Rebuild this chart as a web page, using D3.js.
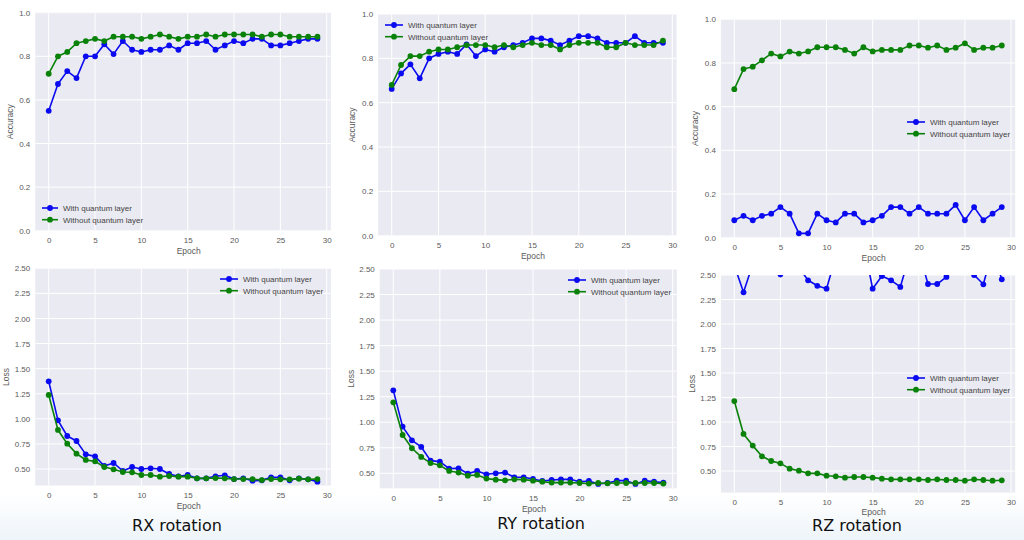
<!DOCTYPE html>
<html>
<head>
<meta charset="utf-8">
<script src="https://cdn.jsdelivr.net/npm/d3@7"></script>
<style>
  html, body { margin: 0; padding: 0; background: #ffffff; }
  svg { display: block; }
</style>
</head>
<body>
<svg id="chart" width="1024" height="540"></svg>
<script>
// ---------------- DATA ----------------
const epochs = [0,1,2,3,4,5,6,7,8,9,10,11,12,13,14,15,16,17,18,19,20,21,22,23,24,25,26,27,28,29];
const xTicks = [0,5,10,15,20,25,30];
const accTicks = [0.0,0.2,0.4,0.6,0.8,1.0];
const lossTicks = [0.50,0.75,1.00,1.25,1.50,1.75,2.00,2.25,2.50];
const seriesNames = ["With quantum layer", "Without quantum layer"];
const rotationTitles = ["RX rotation", "RY rotation", "RZ rotation"];

// RX
const rxAccWith    = [0.55,0.673,0.732,0.70,0.80,0.80,0.855,0.81,0.87,0.83,0.82,0.83,0.83,0.85,0.83,0.86,0.86,0.87,0.83,0.85,0.87,0.86,0.88,0.88,0.85,0.85,0.86,0.87,0.88,0.88];
const rxAccWithout = [0.72,0.80,0.82,0.86,0.87,0.88,0.87,0.89,0.89,0.89,0.88,0.89,0.90,0.89,0.88,0.89,0.89,0.90,0.89,0.90,0.90,0.90,0.90,0.89,0.90,0.90,0.89,0.89,0.89,0.89];
const rxLossWith    = [1.374,0.985,0.829,0.779,0.646,0.626,0.53,0.56,0.48,0.52,0.50,0.507,0.50,0.45,0.427,0.44,0.407,0.407,0.427,0.437,0.40,0.407,0.384,0.387,0.417,0.417,0.387,0.407,0.397,0.374];
const rxLossWithout = [1.238,0.889,0.752,0.653,0.59,0.576,0.52,0.497,0.47,0.467,0.44,0.44,0.424,0.43,0.424,0.424,0.407,0.407,0.41,0.407,0.40,0.40,0.40,0.39,0.40,0.397,0.397,0.404,0.397,0.40];
// RY
const ryAccWith    = [0.662,0.732,0.773,0.71,0.80,0.82,0.83,0.82,0.863,0.81,0.84,0.83,0.85,0.86,0.87,0.89,0.89,0.88,0.86,0.88,0.90,0.90,0.89,0.87,0.87,0.87,0.90,0.87,0.87,0.87];
const ryAccWithout = [0.68,0.77,0.81,0.81,0.83,0.84,0.84,0.85,0.86,0.86,0.86,0.85,0.86,0.85,0.86,0.87,0.86,0.86,0.84,0.86,0.87,0.87,0.87,0.85,0.85,0.87,0.86,0.86,0.86,0.88];
const ryLossWith    = [1.312,0.957,0.823,0.758,0.624,0.614,0.546,0.549,0.497,0.523,0.49,0.50,0.507,0.461,0.461,0.445,0.425,0.435,0.441,0.441,0.418,0.425,0.396,0.405,0.428,0.428,0.396,0.428,0.418,0.409];
const ryLossWithout = [1.195,0.875,0.745,0.66,0.60,0.578,0.523,0.507,0.477,0.484,0.448,0.438,0.431,0.441,0.438,0.428,0.418,0.409,0.409,0.409,0.405,0.399,0.405,0.402,0.405,0.405,0.405,0.405,0.405,0.399];
// RZ
const rzAccWith    = [0.08,0.10,0.08,0.10,0.11,0.14,0.11,0.02,0.02,0.11,0.08,0.07,0.11,0.11,0.07,0.08,0.10,0.14,0.14,0.11,0.14,0.11,0.11,0.11,0.15,0.08,0.14,0.08,0.11,0.14];
const rzAccWithout = [0.68,0.772,0.783,0.812,0.843,0.83,0.852,0.843,0.853,0.872,0.872,0.872,0.86,0.843,0.872,0.853,0.86,0.86,0.86,0.88,0.88,0.87,0.88,0.86,0.87,0.89,0.86,0.87,0.87,0.88];
const rzLossWith    = [2.60,2.323,2.61,2.62,2.58,2.505,2.62,2.575,2.446,2.39,2.36,2.686,2.70,2.75,2.83,2.36,2.49,2.446,2.378,2.70,2.74,2.408,2.408,2.48,2.90,2.65,2.50,2.405,2.75,2.456];
const rzLossWithout = [1.214,0.878,0.759,0.65,0.602,0.578,0.524,0.503,0.476,0.476,0.452,0.446,0.432,0.439,0.439,0.432,0.422,0.415,0.415,0.415,0.415,0.408,0.415,0.408,0.408,0.401,0.415,0.408,0.401,0.405];

// ---------------- LAYOUT ----------------
const colors = ["#0a0af0", "#0a820a"];
const bg = "#eaeaf2";
const tickColor = "#5a5a5a";
const textFont = "'Liberation Sans', Arial, sans-serif";

const panels = [
  { w: rxAccWith,  wo: rxAccWithout,  yLabel: "Accuracy", ticks: accTicks, fmt: ".1f",
    x0: 48.7, x30: 326.7, yv: [0, 1], yp: [230.7, 12.7], ylim: [0, 1],
    legend: { x: 42, y: 208, len: 16 }, yLabX: 10, xLabY: 254 },
  { w: ryAccWith,  wo: ryAccWithout,  yLabel: "Accuracy", ticks: accTicks, fmt: ".1f",
    x0: 391.7, x30: 672.3, yv: [0, 1], yp: [235.7, 14], ylim: [0, 1],
    legend: { x: 385, y: 25, len: 18 }, yLabX: 352, xLabY: 259 },
  { w: rzAccWith,  wo: rzAccWithout,  yLabel: "Accuracy", ticks: accTicks, fmt: ".1f",
    x0: 734.3, x30: 1011, yv: [0, 1], yp: [237.7, 19.3], ylim: [0, 1],
    legend: { x: 907, y: 122, len: 18 }, yLabX: 695, xLabY: 261 },
  { w: rxLossWith, wo: rxLossWithout, yLabel: "Loss", ticks: lossTicks, fmt: ".2f",
    x0: 48.7, x30: 326.7, yv: [0.5, 2.5], yp: [469, 268.3], ylim: [0.335, 2.5],
    legend: { x: 220, y: 279, len: 18 }, yLabX: 6, xLabY: 509 },
  { w: ryLossWith, wo: ryLossWithout, yLabel: "Loss", ticks: lossTicks, fmt: ".2f",
    x0: 393.3, x30: 672.7, yv: [0.5, 2.5], yp: [473.3, 269], ylim: [0.353, 2.5],
    legend: { x: 568, y: 280, len: 18 }, yLabX: 351, xLabY: 511.5 },
  { w: rzLossWith, wo: rzLossWithout, yLabel: "Loss", ticks: lossTicks, fmt: ".2f",
    x0: 734.3, x30: 1011, yv: [0.5, 2.5], yp: [471, 275], ylim: [0.28, 2.5],
    legend: { x: 907, y: 378, len: 18 }, yLabX: 692, xLabY: 515 }
];
const titlePos = [[177, 531], [541, 529], [857, 531]];

const svg = d3.select("#chart");

// soft bluish glow at the bottom of the frame
const defs = svg.append("defs");
const grad = defs.append("linearGradient").attr("id", "bottomGrad")
  .attr("x1", 0).attr("y1", 0).attr("x2", 0).attr("y2", 1);
grad.append("stop").attr("offset", "0%").attr("stop-color", "#ffffff");
grad.append("stop").attr("offset", "100%").attr("stop-color", "#eef4f9");
svg.append("rect").attr("x", 0).attr("y", 495).attr("width", 1024).attr("height", 45)
  .attr("fill", "url(#bottomGrad)");

panels.forEach((p, i) => {
  const x = d3.scaleLinear().domain([0, 30]).range([p.x0, p.x30]);
  const y = d3.scaleLinear().domain(p.yv).range(p.yp);
  const left = x(-1.45), right = x(30.45);
  const top = y(p.ylim[1]), bottom = y(p.ylim[0]);

  const g = svg.append("g");
  const clipId = "clip" + i;
  defs.append("clipPath").attr("id", clipId).append("rect")
    .attr("x", left).attr("y", top).attr("width", right - left).attr("height", bottom - top);

  g.append("rect").attr("x", left).attr("y", top)
    .attr("width", right - left).attr("height", bottom - top).attr("fill", bg);

  // grid
  const grid = g.append("g").attr("clip-path", `url(#${clipId})`);
  grid.selectAll("line.gx").data(xTicks).join("line")
    .attr("x1", d => x(d)).attr("x2", d => x(d)).attr("y1", top).attr("y2", bottom)
    .attr("stroke", "#ffffff").attr("stroke-width", 1);
  grid.selectAll("line.gy").data(p.ticks).join("line")
    .attr("y1", d => y(d)).attr("y2", d => y(d)).attr("x1", left).attr("x2", right)
    .attr("stroke", "#ffffff").attr("stroke-width", 1);

  // axes
  const xAxis = d3.axisBottom(x).tickValues(xTicks).tickSize(0).tickPadding(7).tickFormat(d3.format("d"));
  const xa = g.append("g").attr("transform", `translate(0,${bottom})`).call(xAxis);
  const yAxis = d3.axisLeft(y).tickValues(p.ticks).tickSize(0).tickPadding(5).tickFormat(d3.format(p.fmt));
  const ya = g.append("g").attr("transform", `translate(${left},0)`).call(yAxis);
  [xa, ya].forEach(a => {
    a.select(".domain").remove();
    a.selectAll("text").attr("fill", tickColor).style("font-family", textFont).style("font-size", "8px");
  });

  // axis labels
  g.append("text").attr("x", (x(0) + x(30)) / 2 + 1).attr("y", p.xLabY)
    .attr("text-anchor", "middle").attr("fill", tickColor)
    .style("font-family", textFont).style("font-size", "8.5px").text("Epoch");
  g.append("text")
    .attr("transform", `translate(${p.yLabX + 3},${(top + bottom) / 2}) rotate(-90)`)
    .attr("text-anchor", "middle").attr("fill", tickColor)
    .style("font-family", textFont).style("font-size", "8.5px").text(p.yLabel);

  // series
  const line = d3.line().x((d, j) => x(epochs[j])).y(d => y(d));
  const plot = g.append("g").attr("clip-path", `url(#${clipId})`);
  [p.w, p.wo].forEach((vals, s) => {
    plot.append("path").datum(vals).attr("d", line)
      .attr("fill", "none").attr("stroke", colors[s]).attr("stroke-width", 1.6)
      .attr("stroke-linejoin", "round");
    plot.selectAll(null).data(vals).join("circle")
      .attr("cx", (d, j) => x(epochs[j])).attr("cy", d => y(d)).attr("r", 2.9)
      .attr("fill", colors[s]);
  });

  // legend
  const lg = g.append("g");
  seriesNames.forEach((name, s) => {
    const ly = p.legend.y + s * 11.7;
    lg.append("line").attr("x1", p.legend.x).attr("x2", p.legend.x + p.legend.len)
      .attr("y1", ly).attr("y2", ly).attr("stroke", colors[s]).attr("stroke-width", 1.6);
    lg.append("circle").attr("cx", p.legend.x + p.legend.len / 2).attr("cy", ly).attr("r", 2.9)
      .attr("fill", colors[s]);
    lg.append("text").attr("x", p.legend.x + p.legend.len + 5).attr("y", ly + 3)
      .attr("fill", "#444").style("font-family", textFont).style("font-size", "8px").text(name);
  });
});

// rotation titles
svg.selectAll("text.title").data(rotationTitles).join("text")
  .attr("class", "title")
  .attr("x", (d, i) => titlePos[i][0]).attr("y", (d, i) => titlePos[i][1])
  .attr("text-anchor", "middle").attr("fill", "#111")
  .style("font-family", "'DejaVu Sans', sans-serif").style("font-size", "16px")
  .text(d => d);
</script>
</body>
</html>
